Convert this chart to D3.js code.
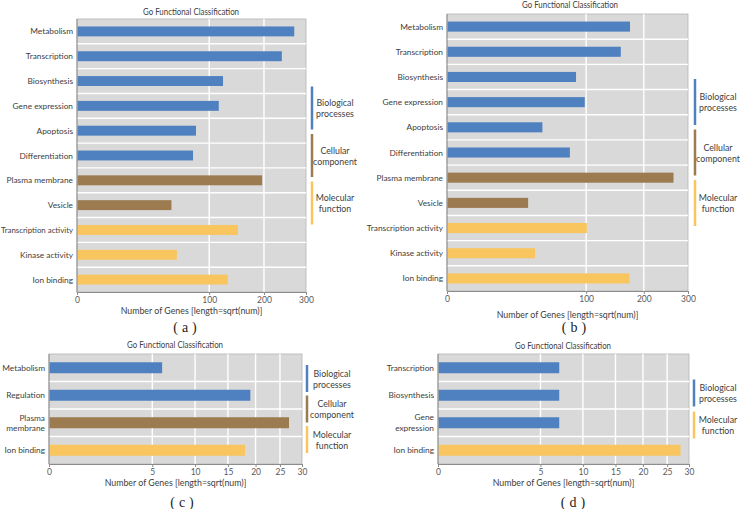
<!DOCTYPE html>
<html><head><meta charset="utf-8">
<script src="https://cdn.jsdelivr.net/npm/d3@7"></script>
<style>
html,body{margin:0;padding:0;background:#fff;}
text{font-family:Lato,"Open Sans",sans-serif;}
</style></head>
<body><svg id="chart" width="740" height="509"></svg>
<script>
// ---- data ----
const titleText = "Go Functional Classification";
const xLabelText = "Number of Genes [length=sqrt(num)]";
const groupNames = ["Biological processes","Cellular component","Molecular function"];
const groupKeys = ["bio","cell","mol"];

const catsA = ["Metabolism","Transcription","Biosynthesis","Gene expression","Apoptosis","Differentiation","Plasma membrane","Vesicle","Transcription activity","Kinase activity","Ion binding"];
const groupsA = ["bio","bio","bio","bio","bio","bio","cell","cell","mol","mol","mol"];
const valsA = [270,240,122,115,81,77,196,51,148,57,130];

const catsB = catsA;
const groupsB = groupsA;
const valsB = [173,156,86,98,47,78,265,34,101,40,172];

const catsC = ["Metabolism","Regulation","Plasma membrane","Ion binding"];
const groupsC = ["bio","bio","cell","mol"];
const valsC = [6,19,27,18];

const catsD = ["Transcription","Biosynthesis","Gene expression","Ion binding"];
const groupsD = ["bio","bio","bio","mol"];
const valsD = [7,7,7,28];

const ticksAB = [0,100,200,300];
const ticksCD = [0,5,10,15,20,25,30];
const captions = ["(a)","(b)","(c)","(d)"];

// ---- styles ----
const colors = {bio:"#4f81c0", cell:"#9b7b4f", mol:"#f8c55e"};
const FS = "8.8px";
const FSL = "8.3px";

const svg = d3.select("#chart");

function panel(o){
  const g = svg.append("g");
  const x = d3.scaleSqrt().domain([0, o.ticks[o.ticks.length-1]]).range([o.left, o.right]);
  const y = d3.scaleBand().domain(o.cats).range([o.top, o.bottom]).padding(0);
  const step = y.step();

  g.append("rect").attr("x",o.left).attr("y",o.top)
    .attr("width",o.right-o.left).attr("height",o.bottom-o.top)
    .attr("fill","#d9d9d9").attr("stroke","#b4b4b4").attr("stroke-width",0.8);

  g.selectAll(".vg").data(o.ticks.slice(1,-1)).join("line")
    .attr("x1",d=>x(d)).attr("x2",d=>x(d)).attr("y1",o.top).attr("y2",o.bottom)
    .attr("stroke","#fff").attr("stroke-width",1.4);
  g.selectAll(".hg").data(o.cats.slice(1)).join("line")
    .attr("x1",o.left).attr("x2",o.right).attr("y1",d=>y(d)).attr("y2",d=>y(d))
    .attr("stroke","#fff").attr("stroke-width",1.4);

  g.selectAll(".bar").data(o.cats).join("rect")
    .attr("x",o.left+0.5).attr("y",d=>y(d)+step*0.3)
    .attr("width",(d,i)=>x(o.vals[i])-o.left-0.5).attr("height",step*0.4)
    .attr("fill",(d,i)=>colors[o.groups[i]]);

  const ax = g.append("g").attr("transform",`translate(0,${o.bottom})`)
    .call(d3.axisBottom(x).tickValues(o.ticks).tickSize(3).tickPadding(2).tickFormat(d3.format("d")));
  ax.select(".domain").attr("stroke","#8c8c8c");
  ax.selectAll(".tick line").attr("stroke","#8c8c8c");
  ax.selectAll(".tick text").attr("fill","#595959").style("font-size","8.5px").style("font-family","Lato,sans-serif");

  g.append("line").attr("x1",o.left).attr("x2",o.left).attr("y1",o.top).attr("y2",o.bottom).attr("stroke","#8c8c8c");

  const maxW = o.left - 5;
  o.cats.forEach((c,i)=>{
    const lines = (o.wrap||[]).includes(c) ? c.split(" ") : [c];
    const cy = y(c)+step/2;
    lines.forEach((l,j)=>{
      const t = g.append("text").attr("x",o.left-4).attr("text-anchor","end")
        .attr("y",cy + (j-(lines.length-1)/2)*o.lineH)
        .attr("dominant-baseline","central")
        .attr("fill","#404040").style("font-size",FSL).text(l);
      if (t.node().getComputedTextLength() > maxW) {
        t.attr("textLength",maxW).attr("lengthAdjust","spacingAndGlyphs");
      }
    });
  });

  g.append("text").attr("x",o.titleX).attr("y",o.titleY).attr("text-anchor","middle")
    .attr("dominant-baseline","central").attr("fill","#404040").style("font-size","8.5px")
    .attr("textLength",96).attr("lengthAdjust","spacingAndGlyphs").text(titleText);
  g.append("text").attr("x",(o.left+o.right)/2).attr("y",o.xlabY).attr("text-anchor","middle")
    .attr("dominant-baseline","central").attr("fill","#404040").style("font-size",FS).text(xLabelText);
  g.append("text").attr("x",o.capX).attr("y",o.capY).attr("text-anchor","middle")
    .attr("dominant-baseline","central").attr("fill","#222").style("font-size","14px")
    .style("font-family","'Liberation Serif',serif").style("letter-spacing","4px").text(o.caption);

  const used = groupKeys.filter(k=>o.groups.includes(k));
  const total = used.length*o.legH + (used.length-1)*o.legGap;
  const midY = (o.top+o.bottom)/2;
  used.forEach((k,i)=>{
    const y0 = midY - total/2 + i*(o.legH+o.legGap);
    g.append("line").attr("x1",o.legX).attr("x2",o.legX).attr("y1",y0).attr("y2",y0+o.legH)
      .attr("stroke",colors[k]).attr("stroke-width",2.5);
    const words = groupNames[groupKeys.indexOf(k)].split(" ");
    const cy = y0+o.legH/2;
    words.forEach((w,j)=>{
      g.append("text").attr("x",o.legTX).attr("y",cy+(j-0.5)*11).attr("text-anchor","middle")
        .attr("dominant-baseline","central").attr("fill","#404040").style("font-size",FS).text(w);
    });
  });
}

panel({cats:catsA,groups:groupsA,vals:valsA,ticks:ticksAB,caption:captions[0],
  left:77,right:306,top:19,bottom:292,titleX:191,titleY:12,xlabY:310,capX:187,capY:327,
  legX:312,legTX:335,legH:43,legGap:4.5,lineH:10.5});
panel({cats:catsB,groups:groupsB,vals:valsB,ticks:ticksAB,caption:captions[1],
  left:447,right:688,top:14,bottom:291,titleX:570,titleY:5,xlabY:314,capX:576,capY:327,
  legX:695,legTX:718,legH:46,legGap:4.5,lineH:10.5});
panel({cats:catsC,groups:groupsC,vals:valsC,ticks:ticksCD,caption:captions[2],wrap:["Plasma membrane"],
  left:49,right:302,top:354,bottom:464,titleX:175,titleY:345,xlabY:482,capX:184,capY:502,
  legX:307,legTX:332,legH:27,legGap:3.5,lineH:10.5});
panel({cats:catsD,groups:groupsD,vals:valsD,ticks:ticksCD,caption:captions[3],wrap:["Gene expression"],
  left:438,right:689,top:354,bottom:464,titleX:563,titleY:346,xlabY:482,capX:575,capY:502,
  legX:694,legTX:718,legH:27,legGap:5,lineH:11});
</script></body></html>
